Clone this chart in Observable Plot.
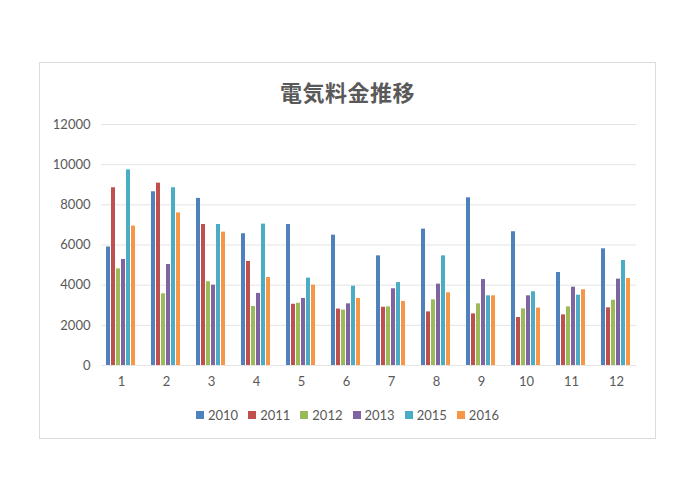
<!DOCTYPE html>
<html>
<head>
<meta charset="utf-8">
<script src="https://cdn.jsdelivr.net/npm/d3@7"></script>
<script src="https://cdn.jsdelivr.net/npm/@observablehq/plot@0.6"></script>
<style>
  html, body { margin: 0; padding: 0; background: #ffffff; }
  body { width: 700px; height: 495px; position: relative; overflow: hidden; }
  #frame { position: absolute; left: 39px; top: 62px; width: 615px; height: 375px; border: 1px solid #dcdcdc; box-sizing: content-box; }
  #title { position: absolute; left: 0; top: 12px; width: 615px; text-align: center; font-family: "Noto Sans CJK JP", sans-serif; font-weight: bold; font-size: 22px; color: #595959; letter-spacing: 0.5px; }
  #grid, #chart { position: absolute; left: 0; top: 47px; }
  #legend { position: absolute; left: 0; top: 344px; width: 615px; display: flex; justify-content: center; gap: 10px; font-family: Lato, "Liberation Sans", sans-serif; font-size: 13px; color: #595959; }
  .item { display: flex; align-items: center; gap: 4px; }
  .sw { width: 8px; height: 8px; display: inline-block; }
</style>
</head>
<body>
<div id="frame">
  <div id="title"></div>
  <div id="grid"></div>
  <div id="chart"></div>
  <div id="legend"></div>
</div>
<script>
const titleText = "電気料金推移";
const months = [1, 2, 3, 4, 5, 6, 7, 8, 9, 10, 11, 12];
const years = ["2010", "2011", "2012", "2013", "2015", "2016"];
const colors = ["#4F81BD", "#C0504D", "#9BBB59", "#8064A2", "#4BACC6", "#F79646"];
const yTicks = [0, 2000, 4000, 6000, 8000, 10000, 12000];

const v2010 = [5900, 8650, 8320, 6560, 7020, 6490, 5460, 6790, 8350, 6660, 4630, 5810];
const v2011 = [8850, 9080, 7020, 5180, 3050, 2810, 2900, 2670, 2570, 2390, 2520, 2870];
const v2012 = [4810, 3570, 4170, 2940, 3100, 2760, 2920, 3270, 3070, 2820, 2920, 3250];
const v2013 = [5280, 5030, 4000, 3590, 3340, 3070, 3820, 4050, 4280, 3470, 3900, 4300];
const v2015 = [9740, 8850, 7020, 7040, 4350, 3950, 4130, 5460, 3470, 3670, 3500, 5230];
const v2016 = [6940, 7600, 6640, 4380, 4000, 3340, 3190, 3620, 3470, 2860, 3770, 4330];

const series = [v2010, v2011, v2012, v2013, v2015, v2016];
const data = [];
months.forEach((m, i) => {
  years.forEach((y, j) => {
    data.push({month: m, year: y, value: series[j][i]});
  });
});

document.getElementById("title").textContent = titleText;

const W = 615, H = 290;
const margins = {marginLeft: 61, marginRight: 19, marginTop: 14, marginBottom: 35};

const grid = Plot.plot({
  width: W, height: H, ...margins,
  style: {background: "transparent"},
  x: {domain: [0, 1], axis: null},
  y: {domain: [0, 12000], axis: null},
  marks: [
    Plot.ruleY(yTicks, {stroke: "#e4e4e4", strokeWidth: 1})
  ]
});
document.getElementById("grid").appendChild(grid);

const chart = Plot.plot({
  width: W, height: H, ...margins,
  style: {fontFamily: "Lato, 'Liberation Sans', sans-serif", fontSize: "13px", color: "#595959", background: "transparent"},
  fx: {domain: months, padding: 0.2, label: null, axis: "bottom", tickSize: 0, tickPadding: 11},
  x: {domain: years, axis: null, padding: 0.12},
  y: {domain: [0, 12000], ticks: yTicks, label: null, tickSize: 0, tickPadding: 13, tickFormat: d => String(d)},
  color: {domain: years, range: colors},
  marks: [
    Plot.barY(data, {fx: "month", x: "year", y: "value", fill: "year"})
  ]
});
document.getElementById("chart").appendChild(chart);

const legend = document.getElementById("legend");
years.forEach((y, j) => {
  const item = document.createElement("span");
  item.className = "item";
  const sw = document.createElement("span");
  sw.className = "sw";
  sw.style.background = colors[j];
  const t = document.createElement("span");
  t.textContent = y;
  item.appendChild(sw);
  item.appendChild(t);
  legend.appendChild(item);
});
</script>
</body>
</html>
